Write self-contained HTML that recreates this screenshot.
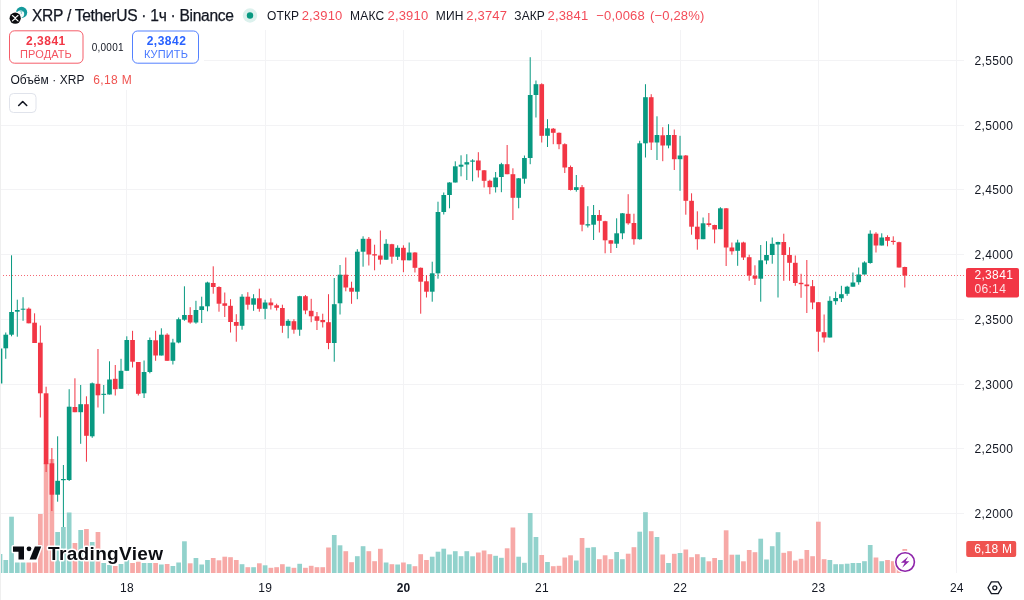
<!DOCTYPE html>
<html lang="ru"><head><meta charset="utf-8"><title>XRP / TetherUS · 1ч · Binance</title>
<style>
html,body{margin:0;padding:0;background:#fff;}
body{width:1024px;height:600px;overflow:hidden;font-family:'Liberation Sans', Arial, sans-serif;}
svg{display:block;}
svg text{font-family:'Liberation Sans', Arial, sans-serif;}
.ax{font-size:12px;fill:#131722;letter-spacing:.35px;}
.tm{font-size:12px;fill:#131722;text-anchor:middle;letter-spacing:.3px;}
.lb{font-size:12px;fill:#131722;}
.vl{font-size:13px;fill:#f23645;fill-opacity:.9;letter-spacing:.17px;}
</style></head><body>
<svg width="1024" height="600" viewBox="0 0 1024 600">
<rect width="1024" height="600" fill="#fff"/>
<g stroke="#f3f3f5" stroke-width="1" shape-rendering="crispEdges">
<line x1="0" y1="60.4" x2="964" y2="60.4"/>
<line x1="0" y1="125.16" x2="964" y2="125.16"/>
<line x1="0" y1="189.92" x2="964" y2="189.92"/>
<line x1="0" y1="254.68" x2="964" y2="254.68"/>
<line x1="0" y1="319.44" x2="964" y2="319.44"/>
<line x1="0" y1="384.2" x2="964" y2="384.2"/>
<line x1="0" y1="448.96" x2="964" y2="448.96"/>
<line x1="0" y1="513.72" x2="964" y2="513.72"/>
<line x1="126.79" y1="0" x2="126.79" y2="573"/>
<line x1="265.1" y1="0" x2="265.1" y2="573"/>
<line x1="403.41" y1="0" x2="403.41" y2="573"/>
<line x1="541.72" y1="0" x2="541.72" y2="573"/>
<line x1="680.03" y1="0" x2="680.03" y2="573"/>
<line x1="818.35" y1="0" x2="818.35" y2="573"/>
<line x1="956.66" y1="0" x2="956.66" y2="573"/>
</g>
<rect x="0" y="0" width="712" height="30" fill="#fff"/>
<rect x="0" y="28" width="204" height="38" fill="#fff"/>
<rect x="0" y="66" width="138" height="24" fill="#fff"/>
<g>
<rect x="-2.35" y="554" width="4.7" height="19" fill="#92d2cc"/>
<rect x="3.41" y="560" width="4.7" height="13" fill="#92d2cc"/>
<rect x="9.18" y="516.7" width="4.7" height="56.3" fill="#92d2cc"/>
<rect x="14.94" y="562.5" width="4.7" height="10.5" fill="#92d2cc"/>
<rect x="20.7" y="562.5" width="4.7" height="10.5" fill="#92d2cc"/>
<rect x="26.46" y="562.5" width="4.7" height="10.5" fill="#f7a9a7"/>
<rect x="32.23" y="562.5" width="4.7" height="10.5" fill="#f7a9a7"/>
<rect x="37.99" y="514" width="4.7" height="59" fill="#f7a9a7"/>
<rect x="43.75" y="463" width="4.7" height="110" fill="#f7a9a7"/>
<rect x="49.52" y="459" width="4.7" height="114" fill="#f7a9a7"/>
<rect x="55.28" y="532" width="4.7" height="41" fill="#92d2cc"/>
<rect x="61.04" y="527" width="4.7" height="46" fill="#92d2cc"/>
<rect x="66.81" y="512.5" width="4.7" height="60.5" fill="#92d2cc"/>
<rect x="72.57" y="543" width="4.7" height="30" fill="#f7a9a7"/>
<rect x="78.33" y="530" width="4.7" height="43" fill="#92d2cc"/>
<rect x="84.09" y="529" width="4.7" height="44" fill="#f7a9a7"/>
<rect x="89.86" y="542" width="4.7" height="31" fill="#92d2cc"/>
<rect x="95.62" y="532" width="4.7" height="41" fill="#f7a9a7"/>
<rect x="101.38" y="563" width="4.7" height="10" fill="#92d2cc"/>
<rect x="107.15" y="565" width="4.7" height="8" fill="#92d2cc"/>
<rect x="112.91" y="566" width="4.7" height="7" fill="#f7a9a7"/>
<rect x="118.67" y="564" width="4.7" height="9" fill="#92d2cc"/>
<rect x="124.44" y="560" width="4.7" height="13" fill="#92d2cc"/>
<rect x="130.2" y="563" width="4.7" height="10" fill="#f7a9a7"/>
<rect x="135.96" y="561.7" width="4.7" height="11.3" fill="#f7a9a7"/>
<rect x="141.72" y="563" width="4.7" height="10" fill="#92d2cc"/>
<rect x="147.49" y="563" width="4.7" height="10" fill="#92d2cc"/>
<rect x="153.25" y="563" width="4.7" height="10" fill="#f7a9a7"/>
<rect x="159.01" y="564.5" width="4.7" height="8.5" fill="#92d2cc"/>
<rect x="164.78" y="564" width="4.7" height="9" fill="#f7a9a7"/>
<rect x="170.54" y="566" width="4.7" height="7" fill="#92d2cc"/>
<rect x="176.3" y="562.5" width="4.7" height="10.5" fill="#92d2cc"/>
<rect x="182.07" y="541.3" width="4.7" height="31.7" fill="#92d2cc"/>
<rect x="187.83" y="563.3" width="4.7" height="9.7" fill="#f7a9a7"/>
<rect x="193.59" y="558" width="4.7" height="15" fill="#92d2cc"/>
<rect x="199.35" y="564.5" width="4.7" height="8.5" fill="#92d2cc"/>
<rect x="205.12" y="560" width="4.7" height="13" fill="#92d2cc"/>
<rect x="210.88" y="558" width="4.7" height="15" fill="#f7a9a7"/>
<rect x="216.64" y="560.3" width="4.7" height="12.7" fill="#f7a9a7"/>
<rect x="222.41" y="556.7" width="4.7" height="16.3" fill="#f7a9a7"/>
<rect x="228.17" y="557.2" width="4.7" height="15.8" fill="#f7a9a7"/>
<rect x="233.93" y="560" width="4.7" height="13" fill="#f7a9a7"/>
<rect x="239.7" y="564.2" width="4.7" height="8.8" fill="#92d2cc"/>
<rect x="245.46" y="567.2" width="4.7" height="5.8" fill="#f7a9a7"/>
<rect x="251.22" y="567.2" width="4.7" height="5.8" fill="#92d2cc"/>
<rect x="256.98" y="563.3" width="4.7" height="9.7" fill="#f7a9a7"/>
<rect x="262.75" y="565.3" width="4.7" height="7.7" fill="#92d2cc"/>
<rect x="268.51" y="567.8" width="4.7" height="5.2" fill="#f7a9a7"/>
<rect x="274.27" y="567.2" width="4.7" height="5.8" fill="#f7a9a7"/>
<rect x="280.04" y="564.2" width="4.7" height="8.8" fill="#f7a9a7"/>
<rect x="285.8" y="566.7" width="4.7" height="6.3" fill="#92d2cc"/>
<rect x="291.56" y="567.8" width="4.7" height="5.2" fill="#f7a9a7"/>
<rect x="297.33" y="563.8" width="4.7" height="9.2" fill="#92d2cc"/>
<rect x="303.09" y="567.8" width="4.7" height="5.2" fill="#f7a9a7"/>
<rect x="308.85" y="565.8" width="4.7" height="7.2" fill="#f7a9a7"/>
<rect x="314.61" y="567.2" width="4.7" height="5.8" fill="#f7a9a7"/>
<rect x="320.38" y="567.2" width="4.7" height="5.8" fill="#f7a9a7"/>
<rect x="326.14" y="547.5" width="4.7" height="25.5" fill="#f7a9a7"/>
<rect x="331.9" y="535" width="4.7" height="38" fill="#92d2cc"/>
<rect x="337.67" y="545.3" width="4.7" height="27.7" fill="#92d2cc"/>
<rect x="343.43" y="551.2" width="4.7" height="21.8" fill="#f7a9a7"/>
<rect x="349.19" y="562.2" width="4.7" height="10.8" fill="#f7a9a7"/>
<rect x="354.96" y="556.2" width="4.7" height="16.8" fill="#92d2cc"/>
<rect x="360.72" y="546.2" width="4.7" height="26.8" fill="#92d2cc"/>
<rect x="366.48" y="551.2" width="4.7" height="21.8" fill="#f7a9a7"/>
<rect x="372.24" y="561.2" width="4.7" height="11.8" fill="#f7a9a7"/>
<rect x="378.01" y="548.8" width="4.7" height="24.2" fill="#f7a9a7"/>
<rect x="383.77" y="562.5" width="4.7" height="10.5" fill="#92d2cc"/>
<rect x="389.53" y="564.2" width="4.7" height="8.8" fill="#f7a9a7"/>
<rect x="395.3" y="564.5" width="4.7" height="8.5" fill="#92d2cc"/>
<rect x="401.06" y="562.5" width="4.7" height="10.5" fill="#f7a9a7"/>
<rect x="406.82" y="564.2" width="4.7" height="8.8" fill="#92d2cc"/>
<rect x="412.59" y="566.2" width="4.7" height="6.8" fill="#f7a9a7"/>
<rect x="418.35" y="554.2" width="4.7" height="18.8" fill="#f7a9a7"/>
<rect x="424.11" y="560" width="4.7" height="13" fill="#f7a9a7"/>
<rect x="429.87" y="556.7" width="4.7" height="16.3" fill="#92d2cc"/>
<rect x="435.64" y="551.7" width="4.7" height="21.3" fill="#92d2cc"/>
<rect x="441.4" y="548.7" width="4.7" height="24.3" fill="#92d2cc"/>
<rect x="447.16" y="554.5" width="4.7" height="18.5" fill="#92d2cc"/>
<rect x="452.93" y="551.2" width="4.7" height="21.8" fill="#92d2cc"/>
<rect x="458.69" y="556.2" width="4.7" height="16.8" fill="#92d2cc"/>
<rect x="464.45" y="551.2" width="4.7" height="21.8" fill="#92d2cc"/>
<rect x="470.22" y="556.3" width="4.7" height="16.7" fill="#92d2cc"/>
<rect x="475.98" y="552.5" width="4.7" height="20.5" fill="#f7a9a7"/>
<rect x="481.74" y="550.5" width="4.7" height="22.5" fill="#f7a9a7"/>
<rect x="487.5" y="554.2" width="4.7" height="18.8" fill="#f7a9a7"/>
<rect x="493.27" y="555.8" width="4.7" height="17.2" fill="#92d2cc"/>
<rect x="499.03" y="557.8" width="4.7" height="15.2" fill="#92d2cc"/>
<rect x="504.79" y="548.3" width="4.7" height="24.7" fill="#f7a9a7"/>
<rect x="510.56" y="527.5" width="4.7" height="45.5" fill="#f7a9a7"/>
<rect x="516.32" y="556.7" width="4.7" height="16.3" fill="#92d2cc"/>
<rect x="522.08" y="562.8" width="4.7" height="10.2" fill="#92d2cc"/>
<rect x="527.85" y="513" width="4.7" height="60" fill="#92d2cc"/>
<rect x="533.61" y="537" width="4.7" height="36" fill="#92d2cc"/>
<rect x="539.37" y="555" width="4.7" height="18" fill="#f7a9a7"/>
<rect x="545.13" y="562" width="4.7" height="11" fill="#92d2cc"/>
<rect x="550.9" y="566.2" width="4.7" height="6.8" fill="#f7a9a7"/>
<rect x="556.66" y="565.8" width="4.7" height="7.2" fill="#f7a9a7"/>
<rect x="562.42" y="557.5" width="4.7" height="15.5" fill="#f7a9a7"/>
<rect x="568.19" y="555.3" width="4.7" height="17.7" fill="#f7a9a7"/>
<rect x="573.95" y="560.5" width="4.7" height="12.5" fill="#92d2cc"/>
<rect x="579.71" y="538" width="4.7" height="35" fill="#f7a9a7"/>
<rect x="585.48" y="547.8" width="4.7" height="25.2" fill="#92d2cc"/>
<rect x="591.24" y="547.2" width="4.7" height="25.8" fill="#92d2cc"/>
<rect x="597" y="559.2" width="4.7" height="13.8" fill="#f7a9a7"/>
<rect x="602.76" y="555.3" width="4.7" height="17.7" fill="#f7a9a7"/>
<rect x="608.53" y="559.2" width="4.7" height="13.8" fill="#f7a9a7"/>
<rect x="614.29" y="552" width="4.7" height="21" fill="#92d2cc"/>
<rect x="620.05" y="559.2" width="4.7" height="13.8" fill="#92d2cc"/>
<rect x="625.82" y="553.7" width="4.7" height="19.3" fill="#f7a9a7"/>
<rect x="631.58" y="547.2" width="4.7" height="25.8" fill="#f7a9a7"/>
<rect x="637.34" y="531.7" width="4.7" height="41.3" fill="#92d2cc"/>
<rect x="643.11" y="512.2" width="4.7" height="60.8" fill="#92d2cc"/>
<rect x="648.87" y="531.2" width="4.7" height="41.8" fill="#f7a9a7"/>
<rect x="654.63" y="537" width="4.7" height="36" fill="#92d2cc"/>
<rect x="660.39" y="554.5" width="4.7" height="18.5" fill="#f7a9a7"/>
<rect x="666.16" y="563" width="4.7" height="10" fill="#92d2cc"/>
<rect x="671.92" y="553.8" width="4.7" height="19.2" fill="#f7a9a7"/>
<rect x="677.68" y="553" width="4.7" height="20" fill="#92d2cc"/>
<rect x="683.45" y="549.5" width="4.7" height="23.5" fill="#f7a9a7"/>
<rect x="689.21" y="557.2" width="4.7" height="15.8" fill="#f7a9a7"/>
<rect x="694.97" y="554.2" width="4.7" height="18.8" fill="#f7a9a7"/>
<rect x="700.74" y="557.2" width="4.7" height="15.8" fill="#92d2cc"/>
<rect x="706.5" y="561.3" width="4.7" height="11.7" fill="#f7a9a7"/>
<rect x="712.26" y="558" width="4.7" height="15" fill="#f7a9a7"/>
<rect x="718.02" y="560" width="4.7" height="13" fill="#92d2cc"/>
<rect x="723.79" y="530.3" width="4.7" height="42.7" fill="#f7a9a7"/>
<rect x="729.55" y="554.7" width="4.7" height="18.3" fill="#f7a9a7"/>
<rect x="735.31" y="554.7" width="4.7" height="18.3" fill="#92d2cc"/>
<rect x="741.08" y="561.3" width="4.7" height="11.7" fill="#f7a9a7"/>
<rect x="746.84" y="550" width="4.7" height="23" fill="#f7a9a7"/>
<rect x="752.6" y="552.2" width="4.7" height="20.8" fill="#f7a9a7"/>
<rect x="758.37" y="538.7" width="4.7" height="34.3" fill="#92d2cc"/>
<rect x="764.13" y="559.5" width="4.7" height="13.5" fill="#92d2cc"/>
<rect x="769.89" y="546.2" width="4.7" height="26.8" fill="#92d2cc"/>
<rect x="775.65" y="532.2" width="4.7" height="40.8" fill="#92d2cc"/>
<rect x="781.42" y="552.8" width="4.7" height="20.2" fill="#f7a9a7"/>
<rect x="787.18" y="551.2" width="4.7" height="21.8" fill="#f7a9a7"/>
<rect x="792.94" y="560.5" width="4.7" height="12.5" fill="#f7a9a7"/>
<rect x="798.71" y="558.8" width="4.7" height="14.2" fill="#f7a9a7"/>
<rect x="804.47" y="550" width="4.7" height="23" fill="#f7a9a7"/>
<rect x="810.23" y="556.2" width="4.7" height="16.8" fill="#f7a9a7"/>
<rect x="816" y="521.7" width="4.7" height="51.3" fill="#f7a9a7"/>
<rect x="821.76" y="559.2" width="4.7" height="13.8" fill="#f7a9a7"/>
<rect x="827.52" y="560" width="4.7" height="13" fill="#92d2cc"/>
<rect x="833.28" y="564.2" width="4.7" height="8.8" fill="#92d2cc"/>
<rect x="839.05" y="564.2" width="4.7" height="8.8" fill="#92d2cc"/>
<rect x="844.81" y="563.7" width="4.7" height="9.3" fill="#92d2cc"/>
<rect x="850.57" y="563" width="4.7" height="10" fill="#92d2cc"/>
<rect x="856.34" y="563" width="4.7" height="10" fill="#92d2cc"/>
<rect x="862.1" y="561.2" width="4.7" height="11.8" fill="#92d2cc"/>
<rect x="867.86" y="545" width="4.7" height="28" fill="#92d2cc"/>
<rect x="873.63" y="557.5" width="4.7" height="15.5" fill="#f7a9a7"/>
<rect x="879.39" y="561.2" width="4.7" height="11.8" fill="#92d2cc"/>
<rect x="885.15" y="560" width="4.7" height="13" fill="#f7a9a7"/>
<rect x="890.91" y="561.2" width="4.7" height="11.8" fill="#f7a9a7"/>
<rect x="896.68" y="566" width="4.7" height="7" fill="#f7a9a7"/>
<rect x="902.44" y="549" width="4.7" height="24" fill="#f7a9a7"/>
</g>
<line x1="0" y1="275.5" x2="966" y2="275.5" stroke="#f23645" stroke-width="1" stroke-dasharray="1 2" opacity=".75"/>
<g>
<rect x="-0.5" y="348.5" width="1" height="35" fill="#089981"/>
<rect x="-2.35" y="348.5" width="4.7" height="35" fill="#089981"/>
<rect x="5.26" y="332.5" width="1" height="26.3" fill="#089981"/>
<rect x="3.41" y="334.7" width="4.7" height="13.6" fill="#089981"/>
<rect x="11.03" y="255.3" width="1" height="81" fill="#089981"/>
<rect x="9.18" y="312" width="4.7" height="22.7" fill="#089981"/>
<rect x="16.79" y="299.7" width="1" height="37" fill="#089981"/>
<rect x="14.94" y="310" width="4.7" height="1.7" fill="#089981"/>
<rect x="22.55" y="297.2" width="1" height="23.6" fill="#089981"/>
<rect x="20.7" y="308.7" width="4.7" height="1" fill="#089981"/>
<rect x="28.31" y="307.5" width="1" height="15.8" fill="#f23645"/>
<rect x="26.46" y="308.7" width="4.7" height="14.6" fill="#f23645"/>
<rect x="34.08" y="313.3" width="1" height="29.7" fill="#f23645"/>
<rect x="32.23" y="322.7" width="4.7" height="20.3" fill="#f23645"/>
<rect x="39.84" y="325.5" width="1" height="92" fill="#f23645"/>
<rect x="37.99" y="342.7" width="4.7" height="50.6" fill="#f23645"/>
<rect x="45.6" y="386.7" width="1" height="85.3" fill="#f23645"/>
<rect x="43.75" y="393.3" width="4.7" height="70.9" fill="#f23645"/>
<rect x="51.37" y="448" width="1" height="63" fill="#f23645"/>
<rect x="49.52" y="463.3" width="4.7" height="31.4" fill="#f23645"/>
<rect x="57.13" y="436.3" width="1" height="65.4" fill="#089981"/>
<rect x="55.28" y="480.8" width="4.7" height="13.9" fill="#089981"/>
<rect x="62.89" y="465" width="1" height="62" fill="#089981"/>
<rect x="61.04" y="479" width="4.7" height="1.2" fill="#089981"/>
<rect x="68.66" y="389.2" width="1" height="91.8" fill="#089981"/>
<rect x="66.81" y="406.7" width="4.7" height="73.3" fill="#089981"/>
<rect x="74.42" y="378.3" width="1" height="33.9" fill="#f23645"/>
<rect x="72.57" y="407" width="4.7" height="5.2" fill="#f23645"/>
<rect x="80.18" y="385" width="1" height="58.8" fill="#089981"/>
<rect x="78.33" y="404.2" width="4.7" height="8" fill="#089981"/>
<rect x="85.94" y="396.3" width="1" height="65.4" fill="#f23645"/>
<rect x="84.09" y="404.2" width="4.7" height="31.6" fill="#f23645"/>
<rect x="91.71" y="382.5" width="1" height="55.3" fill="#089981"/>
<rect x="89.86" y="383.3" width="4.7" height="53" fill="#089981"/>
<rect x="97.47" y="349" width="1" height="58.5" fill="#f23645"/>
<rect x="95.62" y="383.8" width="4.7" height="11.5" fill="#f23645"/>
<rect x="103.23" y="385" width="1" height="28.7" fill="#089981"/>
<rect x="101.38" y="393.8" width="4.7" height="1.1" fill="#089981"/>
<rect x="109" y="361.3" width="1" height="33.2" fill="#089981"/>
<rect x="107.15" y="379.5" width="4.7" height="15" fill="#089981"/>
<rect x="114.76" y="365" width="1" height="30.5" fill="#f23645"/>
<rect x="112.91" y="378.8" width="4.7" height="10.4" fill="#f23645"/>
<rect x="120.52" y="358.8" width="1" height="30" fill="#089981"/>
<rect x="118.67" y="370.8" width="4.7" height="18" fill="#089981"/>
<rect x="126.29" y="336.3" width="1" height="34.5" fill="#089981"/>
<rect x="124.44" y="340" width="4.7" height="30.8" fill="#089981"/>
<rect x="132.05" y="330.8" width="1" height="36.7" fill="#f23645"/>
<rect x="130.2" y="340" width="4.7" height="21.7" fill="#f23645"/>
<rect x="137.81" y="362" width="1" height="33.5" fill="#f23645"/>
<rect x="135.96" y="362" width="4.7" height="31.8" fill="#f23645"/>
<rect x="143.57" y="360.5" width="1" height="37.5" fill="#089981"/>
<rect x="141.72" y="372" width="4.7" height="21.3" fill="#089981"/>
<rect x="149.34" y="337.5" width="1" height="35.8" fill="#089981"/>
<rect x="147.49" y="340" width="4.7" height="32" fill="#089981"/>
<rect x="155.1" y="330.8" width="1" height="30" fill="#f23645"/>
<rect x="153.25" y="340.3" width="4.7" height="15.2" fill="#f23645"/>
<rect x="160.86" y="328.3" width="1" height="27.2" fill="#089981"/>
<rect x="159.01" y="334.7" width="4.7" height="20.8" fill="#089981"/>
<rect x="166.63" y="333.3" width="1" height="27.5" fill="#f23645"/>
<rect x="164.78" y="334.7" width="4.7" height="26.1" fill="#f23645"/>
<rect x="172.39" y="338.8" width="1" height="25.7" fill="#089981"/>
<rect x="170.54" y="342.5" width="4.7" height="18.3" fill="#089981"/>
<rect x="178.15" y="317.5" width="1" height="25.8" fill="#089981"/>
<rect x="176.3" y="319.2" width="4.7" height="23.3" fill="#089981"/>
<rect x="183.92" y="286.3" width="1" height="34.5" fill="#089981"/>
<rect x="182.07" y="315" width="4.7" height="4.7" fill="#089981"/>
<rect x="189.68" y="307.2" width="1" height="16.5" fill="#f23645"/>
<rect x="187.83" y="315" width="4.7" height="7.5" fill="#f23645"/>
<rect x="195.44" y="300.8" width="1" height="22.9" fill="#089981"/>
<rect x="193.59" y="310" width="4.7" height="12.5" fill="#089981"/>
<rect x="201.2" y="296.7" width="1" height="26.3" fill="#089981"/>
<rect x="199.35" y="306.3" width="4.7" height="3.7" fill="#089981"/>
<rect x="206.97" y="281.7" width="1" height="29.6" fill="#089981"/>
<rect x="205.12" y="282.5" width="4.7" height="23.8" fill="#089981"/>
<rect x="212.73" y="266.3" width="1" height="27.4" fill="#f23645"/>
<rect x="210.88" y="283" width="4.7" height="4" fill="#f23645"/>
<rect x="218.49" y="286.3" width="1" height="25.4" fill="#f23645"/>
<rect x="216.64" y="287" width="4.7" height="16.7" fill="#f23645"/>
<rect x="224.26" y="292.5" width="1" height="24.5" fill="#f23645"/>
<rect x="222.41" y="303.3" width="4.7" height="2.5" fill="#f23645"/>
<rect x="230.02" y="299.2" width="1" height="33.3" fill="#f23645"/>
<rect x="228.17" y="305.8" width="4.7" height="16.2" fill="#f23645"/>
<rect x="235.78" y="314.2" width="1" height="27.5" fill="#f23645"/>
<rect x="233.93" y="322" width="4.7" height="3.8" fill="#f23645"/>
<rect x="241.55" y="294.2" width="1" height="35.5" fill="#089981"/>
<rect x="239.7" y="296.7" width="4.7" height="29.1" fill="#089981"/>
<rect x="247.31" y="292.2" width="1" height="17.5" fill="#f23645"/>
<rect x="245.46" y="296.7" width="4.7" height="8" fill="#f23645"/>
<rect x="253.07" y="294.2" width="1" height="16.6" fill="#089981"/>
<rect x="251.22" y="298.3" width="4.7" height="6.4" fill="#089981"/>
<rect x="258.83" y="288.7" width="1" height="23" fill="#f23645"/>
<rect x="256.98" y="298.3" width="4.7" height="10.5" fill="#f23645"/>
<rect x="264.6" y="299.7" width="1" height="19.5" fill="#089981"/>
<rect x="262.75" y="302.5" width="4.7" height="6.3" fill="#089981"/>
<rect x="270.36" y="298.3" width="1" height="11.2" fill="#f23645"/>
<rect x="268.51" y="302.5" width="4.7" height="2.8" fill="#f23645"/>
<rect x="276.12" y="303.7" width="1" height="6.8" fill="#f23645"/>
<rect x="274.27" y="305.3" width="4.7" height="2.5" fill="#f23645"/>
<rect x="281.89" y="304.7" width="1" height="28.1" fill="#f23645"/>
<rect x="280.04" y="308" width="4.7" height="17.8" fill="#f23645"/>
<rect x="287.65" y="319.2" width="1" height="19.1" fill="#089981"/>
<rect x="285.8" y="320.8" width="4.7" height="5" fill="#089981"/>
<rect x="293.41" y="319.2" width="1" height="14.5" fill="#f23645"/>
<rect x="291.56" y="321.2" width="4.7" height="8.5" fill="#f23645"/>
<rect x="299.18" y="295.8" width="1" height="40" fill="#089981"/>
<rect x="297.33" y="296.2" width="4.7" height="33.5" fill="#089981"/>
<rect x="304.94" y="295" width="1" height="19.2" fill="#f23645"/>
<rect x="303.09" y="296.2" width="4.7" height="14.3" fill="#f23645"/>
<rect x="310.7" y="298.8" width="1" height="23.4" fill="#f23645"/>
<rect x="308.85" y="310.8" width="4.7" height="5.5" fill="#f23645"/>
<rect x="316.46" y="312" width="1" height="18" fill="#f23645"/>
<rect x="314.61" y="316.3" width="4.7" height="4.5" fill="#f23645"/>
<rect x="322.23" y="313.7" width="1" height="13.8" fill="#f23645"/>
<rect x="320.38" y="320" width="4.7" height="2.2" fill="#f23645"/>
<rect x="327.99" y="294.2" width="1" height="55" fill="#f23645"/>
<rect x="326.14" y="322.2" width="4.7" height="20.8" fill="#f23645"/>
<rect x="333.75" y="278" width="1" height="83.7" fill="#089981"/>
<rect x="331.9" y="304.2" width="4.7" height="38.8" fill="#089981"/>
<rect x="339.52" y="265" width="1" height="49.5" fill="#089981"/>
<rect x="337.67" y="274.7" width="4.7" height="28.6" fill="#089981"/>
<rect x="345.28" y="257.5" width="1" height="33.8" fill="#f23645"/>
<rect x="343.43" y="274.7" width="4.7" height="12.8" fill="#f23645"/>
<rect x="351.04" y="281.7" width="1" height="22.1" fill="#f23645"/>
<rect x="349.19" y="287.8" width="4.7" height="3.9" fill="#f23645"/>
<rect x="356.81" y="249.2" width="1" height="50" fill="#089981"/>
<rect x="354.96" y="251.7" width="4.7" height="40" fill="#089981"/>
<rect x="362.57" y="236.3" width="1" height="30.4" fill="#089981"/>
<rect x="360.72" y="238.8" width="4.7" height="12.9" fill="#089981"/>
<rect x="368.33" y="237" width="1" height="28.5" fill="#f23645"/>
<rect x="366.48" y="238.8" width="4.7" height="15.7" fill="#f23645"/>
<rect x="374.09" y="244.7" width="1" height="25.6" fill="#f23645"/>
<rect x="372.24" y="254.2" width="4.7" height="1.3" fill="#f23645"/>
<rect x="379.86" y="230.5" width="1" height="34" fill="#f23645"/>
<rect x="378.01" y="255.5" width="4.7" height="4.2" fill="#f23645"/>
<rect x="385.62" y="239.2" width="1" height="20.5" fill="#089981"/>
<rect x="383.77" y="243.8" width="4.7" height="15.9" fill="#089981"/>
<rect x="391.38" y="243.8" width="1" height="19.9" fill="#f23645"/>
<rect x="389.53" y="244.2" width="4.7" height="12.5" fill="#f23645"/>
<rect x="397.15" y="245.3" width="1" height="14.7" fill="#089981"/>
<rect x="395.3" y="247.8" width="4.7" height="8.9" fill="#089981"/>
<rect x="402.91" y="245.3" width="1" height="26.9" fill="#f23645"/>
<rect x="401.06" y="247.8" width="4.7" height="12.5" fill="#f23645"/>
<rect x="408.67" y="242.5" width="1" height="17.8" fill="#089981"/>
<rect x="406.82" y="252.5" width="4.7" height="7.8" fill="#089981"/>
<rect x="414.44" y="252.2" width="1" height="20.3" fill="#f23645"/>
<rect x="412.59" y="252.5" width="4.7" height="15.3" fill="#f23645"/>
<rect x="420.2" y="267.5" width="1" height="46.2" fill="#f23645"/>
<rect x="418.35" y="267.8" width="4.7" height="13.9" fill="#f23645"/>
<rect x="425.96" y="275" width="1" height="22.5" fill="#f23645"/>
<rect x="424.11" y="281.3" width="4.7" height="10.4" fill="#f23645"/>
<rect x="431.72" y="261.7" width="1" height="40" fill="#089981"/>
<rect x="429.87" y="273.3" width="4.7" height="18.4" fill="#089981"/>
<rect x="437.49" y="201.7" width="1" height="77" fill="#089981"/>
<rect x="435.64" y="212" width="4.7" height="61.3" fill="#089981"/>
<rect x="443.25" y="192.5" width="1" height="22" fill="#089981"/>
<rect x="441.4" y="195" width="4.7" height="17" fill="#089981"/>
<rect x="449.01" y="182.2" width="1" height="26.1" fill="#089981"/>
<rect x="447.16" y="182.5" width="4.7" height="12.5" fill="#089981"/>
<rect x="454.78" y="161.3" width="1" height="21.2" fill="#089981"/>
<rect x="452.93" y="166.3" width="4.7" height="16.2" fill="#089981"/>
<rect x="460.54" y="155.3" width="1" height="21" fill="#089981"/>
<rect x="458.69" y="164.7" width="4.7" height="2" fill="#089981"/>
<rect x="466.3" y="154.2" width="1" height="25.8" fill="#089981"/>
<rect x="464.45" y="162.2" width="4.7" height="2.3" fill="#089981"/>
<rect x="472.07" y="159.2" width="1" height="22.1" fill="#089981"/>
<rect x="470.22" y="160.5" width="4.7" height="1.2" fill="#089981"/>
<rect x="477.83" y="152.2" width="1" height="25.3" fill="#f23645"/>
<rect x="475.98" y="160.5" width="4.7" height="9.8" fill="#f23645"/>
<rect x="483.59" y="170" width="1" height="17.5" fill="#f23645"/>
<rect x="481.74" y="170.3" width="4.7" height="10.5" fill="#f23645"/>
<rect x="489.36" y="179.7" width="1" height="14.5" fill="#f23645"/>
<rect x="487.5" y="180.8" width="4.7" height="6.4" fill="#f23645"/>
<rect x="495.12" y="172" width="1" height="20.5" fill="#089981"/>
<rect x="493.27" y="177.5" width="4.7" height="9.7" fill="#089981"/>
<rect x="500.88" y="162.8" width="1" height="29.4" fill="#089981"/>
<rect x="499.03" y="164.2" width="4.7" height="12.8" fill="#089981"/>
<rect x="506.64" y="145" width="1" height="29.2" fill="#f23645"/>
<rect x="504.79" y="164.2" width="4.7" height="10" fill="#f23645"/>
<rect x="512.41" y="168.3" width="1" height="51.7" fill="#f23645"/>
<rect x="510.56" y="174.2" width="4.7" height="23.6" fill="#f23645"/>
<rect x="518.17" y="178" width="1" height="30.3" fill="#089981"/>
<rect x="516.32" y="178.3" width="4.7" height="19.5" fill="#089981"/>
<rect x="523.93" y="155.5" width="1" height="28.2" fill="#089981"/>
<rect x="522.08" y="158" width="4.7" height="20.7" fill="#089981"/>
<rect x="529.7" y="57.2" width="1" height="107" fill="#089981"/>
<rect x="527.85" y="95" width="4.7" height="63" fill="#089981"/>
<rect x="535.46" y="80.5" width="1" height="37" fill="#089981"/>
<rect x="533.61" y="84.2" width="4.7" height="10.8" fill="#089981"/>
<rect x="541.22" y="83.3" width="1" height="59.2" fill="#f23645"/>
<rect x="539.37" y="84.2" width="4.7" height="51.6" fill="#f23645"/>
<rect x="546.99" y="119.2" width="1" height="27.8" fill="#089981"/>
<rect x="545.13" y="128.3" width="4.7" height="7.5" fill="#089981"/>
<rect x="552.75" y="128" width="1" height="16.2" fill="#f23645"/>
<rect x="550.9" y="128.7" width="4.7" height="4.1" fill="#f23645"/>
<rect x="558.51" y="132.5" width="1" height="16.7" fill="#f23645"/>
<rect x="556.66" y="132.8" width="4.7" height="11.4" fill="#f23645"/>
<rect x="564.27" y="143.3" width="1" height="29.7" fill="#f23645"/>
<rect x="562.42" y="144.2" width="4.7" height="23.3" fill="#f23645"/>
<rect x="570.04" y="165.5" width="1" height="25" fill="#f23645"/>
<rect x="568.19" y="167" width="4.7" height="23" fill="#f23645"/>
<rect x="575.8" y="175" width="1" height="16.7" fill="#089981"/>
<rect x="573.95" y="187.2" width="4.7" height="2.8" fill="#089981"/>
<rect x="581.56" y="185" width="1" height="46.3" fill="#f23645"/>
<rect x="579.71" y="187.2" width="4.7" height="37.5" fill="#f23645"/>
<rect x="587.33" y="206.2" width="1" height="21.3" fill="#089981"/>
<rect x="585.48" y="224.2" width="4.7" height="1.3" fill="#089981"/>
<rect x="593.09" y="205" width="1" height="35" fill="#089981"/>
<rect x="591.24" y="215" width="4.7" height="9.7" fill="#089981"/>
<rect x="598.85" y="210" width="1" height="22.5" fill="#f23645"/>
<rect x="597" y="215" width="4.7" height="5.8" fill="#f23645"/>
<rect x="604.62" y="220.8" width="1" height="32.5" fill="#f23645"/>
<rect x="602.76" y="221.2" width="4.7" height="19.1" fill="#f23645"/>
<rect x="610.38" y="240" width="1" height="13" fill="#f23645"/>
<rect x="608.53" y="240.3" width="4.7" height="3.4" fill="#f23645"/>
<rect x="616.14" y="218.3" width="1" height="29.7" fill="#089981"/>
<rect x="614.29" y="233.3" width="4.7" height="10.4" fill="#089981"/>
<rect x="621.9" y="213" width="1" height="26.2" fill="#089981"/>
<rect x="620.05" y="213.3" width="4.7" height="20" fill="#089981"/>
<rect x="627.67" y="194.2" width="1" height="30.5" fill="#f23645"/>
<rect x="625.82" y="213.8" width="4.7" height="9.5" fill="#f23645"/>
<rect x="633.43" y="213.7" width="1" height="31" fill="#f23645"/>
<rect x="631.58" y="223" width="4.7" height="16.2" fill="#f23645"/>
<rect x="639.19" y="140.8" width="1" height="98.9" fill="#089981"/>
<rect x="637.34" y="143.3" width="4.7" height="95.9" fill="#089981"/>
<rect x="644.96" y="84.2" width="1" height="73.3" fill="#089981"/>
<rect x="643.11" y="97.2" width="4.7" height="46.1" fill="#089981"/>
<rect x="650.72" y="94.2" width="1" height="55.8" fill="#f23645"/>
<rect x="648.87" y="97.2" width="4.7" height="45.3" fill="#f23645"/>
<rect x="656.48" y="116.3" width="1" height="43.7" fill="#089981"/>
<rect x="654.63" y="135" width="4.7" height="7.5" fill="#089981"/>
<rect x="662.25" y="127.2" width="1" height="34" fill="#f23645"/>
<rect x="660.39" y="135.3" width="4.7" height="10.2" fill="#f23645"/>
<rect x="668.01" y="124.2" width="1" height="24.1" fill="#089981"/>
<rect x="666.16" y="135" width="4.7" height="10.5" fill="#089981"/>
<rect x="673.77" y="129.5" width="1" height="40.5" fill="#f23645"/>
<rect x="671.92" y="135" width="4.7" height="24.2" fill="#f23645"/>
<rect x="679.53" y="135.8" width="1" height="55" fill="#089981"/>
<rect x="677.68" y="155.5" width="4.7" height="3.7" fill="#089981"/>
<rect x="685.3" y="155" width="1" height="59.7" fill="#f23645"/>
<rect x="683.45" y="155.5" width="4.7" height="45.3" fill="#f23645"/>
<rect x="691.06" y="193.3" width="1" height="41.4" fill="#f23645"/>
<rect x="689.21" y="200.8" width="4.7" height="25.9" fill="#f23645"/>
<rect x="696.82" y="211.3" width="1" height="38.4" fill="#f23645"/>
<rect x="694.97" y="226.7" width="4.7" height="12.5" fill="#f23645"/>
<rect x="702.59" y="217.5" width="1" height="21.7" fill="#089981"/>
<rect x="700.74" y="223.3" width="4.7" height="15.9" fill="#089981"/>
<rect x="708.35" y="213" width="1" height="13.7" fill="#f23645"/>
<rect x="706.5" y="223.3" width="4.7" height="1.7" fill="#f23645"/>
<rect x="714.11" y="224.7" width="1" height="18.6" fill="#f23645"/>
<rect x="712.26" y="225" width="4.7" height="4.5" fill="#f23645"/>
<rect x="719.88" y="207.2" width="1" height="22" fill="#089981"/>
<rect x="718.02" y="208.3" width="4.7" height="20.9" fill="#089981"/>
<rect x="725.64" y="208" width="1" height="58" fill="#f23645"/>
<rect x="723.79" y="208.3" width="4.7" height="39.2" fill="#f23645"/>
<rect x="731.4" y="242.5" width="1" height="12.2" fill="#f23645"/>
<rect x="729.55" y="247.5" width="4.7" height="3.8" fill="#f23645"/>
<rect x="737.16" y="239.7" width="1" height="26.1" fill="#089981"/>
<rect x="735.31" y="242.5" width="4.7" height="8.3" fill="#089981"/>
<rect x="742.93" y="241.7" width="1" height="18.3" fill="#f23645"/>
<rect x="741.08" y="242.5" width="4.7" height="15" fill="#f23645"/>
<rect x="748.69" y="254.7" width="1" height="26.1" fill="#f23645"/>
<rect x="746.84" y="257.2" width="4.7" height="18.3" fill="#f23645"/>
<rect x="754.45" y="265.3" width="1" height="19.7" fill="#f23645"/>
<rect x="752.6" y="275.8" width="4.7" height="2.9" fill="#f23645"/>
<rect x="760.22" y="245" width="1" height="56.7" fill="#089981"/>
<rect x="758.37" y="260.3" width="4.7" height="18.4" fill="#089981"/>
<rect x="765.98" y="241.2" width="1" height="23" fill="#089981"/>
<rect x="764.13" y="255" width="4.7" height="5.5" fill="#089981"/>
<rect x="771.74" y="237.5" width="1" height="26.2" fill="#089981"/>
<rect x="769.89" y="243.8" width="4.7" height="11.2" fill="#089981"/>
<rect x="777.5" y="241.7" width="1" height="55.8" fill="#089981"/>
<rect x="775.65" y="242" width="4.7" height="2.5" fill="#089981"/>
<rect x="783.27" y="233.7" width="1" height="47.1" fill="#f23645"/>
<rect x="781.42" y="242" width="4.7" height="13" fill="#f23645"/>
<rect x="789.03" y="247.2" width="1" height="33.6" fill="#f23645"/>
<rect x="787.18" y="255" width="4.7" height="7.8" fill="#f23645"/>
<rect x="794.79" y="255.5" width="1" height="30.3" fill="#f23645"/>
<rect x="792.94" y="262.8" width="4.7" height="20.2" fill="#f23645"/>
<rect x="800.56" y="273.8" width="1" height="24" fill="#f23645"/>
<rect x="798.71" y="282.8" width="4.7" height="1.4" fill="#f23645"/>
<rect x="806.32" y="260" width="1" height="53" fill="#f23645"/>
<rect x="804.47" y="284.5" width="4.7" height="1.7" fill="#f23645"/>
<rect x="812.08" y="280" width="1" height="29.2" fill="#f23645"/>
<rect x="810.23" y="286.2" width="4.7" height="16.3" fill="#f23645"/>
<rect x="817.85" y="302" width="1" height="49.7" fill="#f23645"/>
<rect x="816" y="302.2" width="4.7" height="29.5" fill="#f23645"/>
<rect x="823.61" y="314.5" width="1" height="28" fill="#f23645"/>
<rect x="821.76" y="332.2" width="4.7" height="5.3" fill="#f23645"/>
<rect x="829.37" y="296.3" width="1" height="41.2" fill="#089981"/>
<rect x="827.52" y="300.8" width="4.7" height="36.7" fill="#089981"/>
<rect x="835.13" y="291.7" width="1" height="13" fill="#089981"/>
<rect x="833.28" y="298" width="4.7" height="3.2" fill="#089981"/>
<rect x="840.9" y="285.8" width="1" height="16.2" fill="#089981"/>
<rect x="839.05" y="294.2" width="4.7" height="4.1" fill="#089981"/>
<rect x="846.66" y="285.8" width="1" height="10" fill="#089981"/>
<rect x="844.81" y="286.7" width="4.7" height="7.1" fill="#089981"/>
<rect x="852.42" y="272.5" width="1" height="14.2" fill="#089981"/>
<rect x="850.57" y="282.5" width="4.7" height="4.2" fill="#089981"/>
<rect x="858.19" y="267.5" width="1" height="17.2" fill="#089981"/>
<rect x="856.34" y="274.5" width="4.7" height="7.7" fill="#089981"/>
<rect x="863.95" y="261.3" width="1" height="13.2" fill="#089981"/>
<rect x="862.1" y="262.5" width="4.7" height="12" fill="#089981"/>
<rect x="869.71" y="230.3" width="1" height="33.4" fill="#089981"/>
<rect x="867.86" y="233.7" width="4.7" height="29.3" fill="#089981"/>
<rect x="875.48" y="232.2" width="1" height="20.3" fill="#f23645"/>
<rect x="873.63" y="233.7" width="4.7" height="11.8" fill="#f23645"/>
<rect x="881.24" y="233.3" width="1" height="12.2" fill="#089981"/>
<rect x="879.39" y="237.5" width="4.7" height="8" fill="#089981"/>
<rect x="887" y="235.3" width="1" height="11" fill="#f23645"/>
<rect x="885.15" y="237" width="4.7" height="3.8" fill="#f23645"/>
<rect x="892.76" y="236.3" width="1" height="8.4" fill="#f23645"/>
<rect x="890.91" y="240.8" width="4.7" height="1.2" fill="#f23645"/>
<rect x="898.53" y="241.7" width="1" height="25.8" fill="#f23645"/>
<rect x="896.68" y="242.2" width="4.7" height="25.3" fill="#f23645"/>
<rect x="904.29" y="266.7" width="1" height="20.8" fill="#f23645"/>
<rect x="902.44" y="267" width="4.7" height="8.5" fill="#f23645"/>
</g>
<text class="ax" x="974.6" y="64.75">2,5500</text>
<text class="ax" x="974.6" y="129.51">2,5000</text>
<text class="ax" x="974.6" y="194.27">2,4500</text>
<text class="ax" x="974.6" y="259.03">2,4000</text>
<text class="ax" x="974.6" y="323.79">2,3500</text>
<text class="ax" x="974.6" y="388.55">2,3000</text>
<text class="ax" x="974.6" y="453.31">2,2500</text>
<text class="ax" x="974.6" y="518.07">2,2000</text>
<rect x="966" y="268" width="53" height="29.5" rx="2" fill="#f23645"/>
<text x="974.4" y="279.4" font-size="12" fill="#fff" letter-spacing=".35">2,3841</text>
<text x="974.4" y="292.6" font-size="12" fill="#fff" fill-opacity=".85" letter-spacing=".35">06:14</text>
<rect x="966.2" y="541" width="50" height="16" rx="2" fill="#ef5350"/>
<text x="974.2" y="553" font-size="12" fill="#fff" letter-spacing=".2">6,18 M</text>
<text class="tm" x="126.99" y="592.3">18</text>
<text class="tm" x="265.3" y="592.3">19</text>
<text class="tm" x="403.61" y="592.3" font-weight="700">20</text>
<text class="tm" x="541.92" y="592.3">21</text>
<text class="tm" x="680.23" y="592.3">22</text>
<text class="tm" x="818.55" y="592.3">23</text>
<text class="tm" x="956.86" y="592.3">24</text>
<polygon points="1001.6,587.8 998.2,593.69 991.4,593.69 988,587.8 991.4,581.91 998.2,581.91" fill="none" stroke="#131722" stroke-width="1.3" stroke-linejoin="round"/>
<circle cx="994.8" cy="587.8" r="2" fill="none" stroke="#131722" stroke-width="1.3"/>
<circle cx="905.1" cy="562" r="11.3" fill="#fff"/>
<circle cx="905.1" cy="562" r="9.3" fill="#fff" stroke="#8e24aa" stroke-width="1.6"/>
<path d="M908.2 556.4 L900.9 562.8 L904.8 562.8 L902.2 567.8 L909.4 561.2 L905.6 561.2 Z" fill="#8e24aa"/>
<g stroke="#fff" stroke-width="3" stroke-linejoin="round" paint-order="stroke" fill="#0b0d12">
<path d="M13 546.5 H24 V559.5 H18.5 V551.7 H13 Z"/>
<circle cx="29" cy="548.8" r="2.4"/>
<path d="M34.9 546.5 H41.2 L36.2 559.5 H29.6 Z"/>
<text x="48" y="559.5" font-size="19" font-weight="700" letter-spacing=".35" style="paint-order:stroke">TradingView</text>
</g>
<circle cx="21.6" cy="12.4" r="5.6" fill="#159a9c"/>
<ellipse cx="20.5" cy="13.9" rx="3.7" ry="3.5" fill="#f4fbfb"/>
<path d="M19.9 11.2 h2.8 v.9 h-.95 v1.9 h-.9 v-1.9 h-.95 z" fill="#159a9c" opacity=".55"/>
<circle cx="15.2" cy="18.2" r="6.6" fill="#fff"/>
<circle cx="15.2" cy="18.2" r="5.6" fill="#0c0d10"/>
<path d="M12.4 15.5 L15.2 17.9 L18 15.5 M12.4 20.9 L15.2 18.5 L18 20.9" fill="none" stroke="#fff" stroke-width="1.15" stroke-linecap="round" stroke-linejoin="round"/>
<text x="32" y="20.7" font-size="15.6" letter-spacing="-.3" fill="#131722" stroke="#131722" stroke-width=".25">XRP / TetherUS · 1ч · Binance</text>
<circle cx="250" cy="15.5" r="7.2" fill="#089981" fill-opacity=".14"/>
<circle cx="250" cy="15.5" r="3.2" fill="#089981"/>
<text class="lb" x="267" y="20" letter-spacing="0.15">ОТКР</text>
<text class="vl" x="301.7" y="20">2,3910</text>
<text class="lb" x="350" y="20" letter-spacing="0.25">МАКС</text>
<text class="vl" x="387.5" y="20">2,3910</text>
<text class="lb" x="435.7" y="20" letter-spacing="0.25">МИН</text>
<text class="vl" x="466.3" y="20">2,3747</text>
<text class="lb" x="514.3" y="20" letter-spacing="0.1">ЗАКР</text>
<text class="vl" x="547.5" y="20">2,3841</text>
<text class="vl" x="596.3" y="20">−0,0068</text>
<text class="vl" x="650" y="20">(−0,28%)</text>
<rect x="9.5" y="30.8" width="73.5" height="32.4" rx="5" fill="#fff" stroke="#f23645" stroke-opacity=".8" stroke-width="1"/>
<text x="45.9" y="44.8" font-size="12" font-weight="700" fill="#f23645" text-anchor="middle" letter-spacing=".5">2,3841</text>
<text x="46" y="57.6" font-size="11" fill="#f23645" fill-opacity=".85" text-anchor="middle" letter-spacing=".1">ПРОДАТЬ</text>
<text x="91.7" y="50.8" font-size="10" fill="#131722" letter-spacing=".25">0,0001</text>
<rect x="132.5" y="31" width="66" height="32.2" rx="5" fill="#fff" stroke="#2962ff" stroke-opacity=".8" stroke-width="1"/>
<text x="166.5" y="44.8" font-size="12" font-weight="700" fill="#2962ff" text-anchor="middle" letter-spacing=".5">2,3842</text>
<text x="166" y="58" font-size="11" fill="#2962ff" fill-opacity=".85" text-anchor="middle" letter-spacing=".15">КУПИТЬ</text>
<text x="10.4" y="83.6" font-size="12" fill="#131722" letter-spacing=".05">Объём · XRP</text>
<text x="93.3" y="83.6" font-size="12" fill="#ef5350" letter-spacing=".35">6,18 M</text>
<rect x="9.5" y="93.5" width="26.5" height="19" rx="4" fill="#fff" stroke="#e0e3eb" stroke-width="1"/>
<polyline points="18.7,105.5 22.7,101.5 26.7,105.5" fill="none" stroke="#131722" stroke-width="1.6" stroke-linecap="round" stroke-linejoin="round"/>
<rect x="0" y="0" width="1" height="600" fill="#efefef"/>
</svg>
</body></html>
